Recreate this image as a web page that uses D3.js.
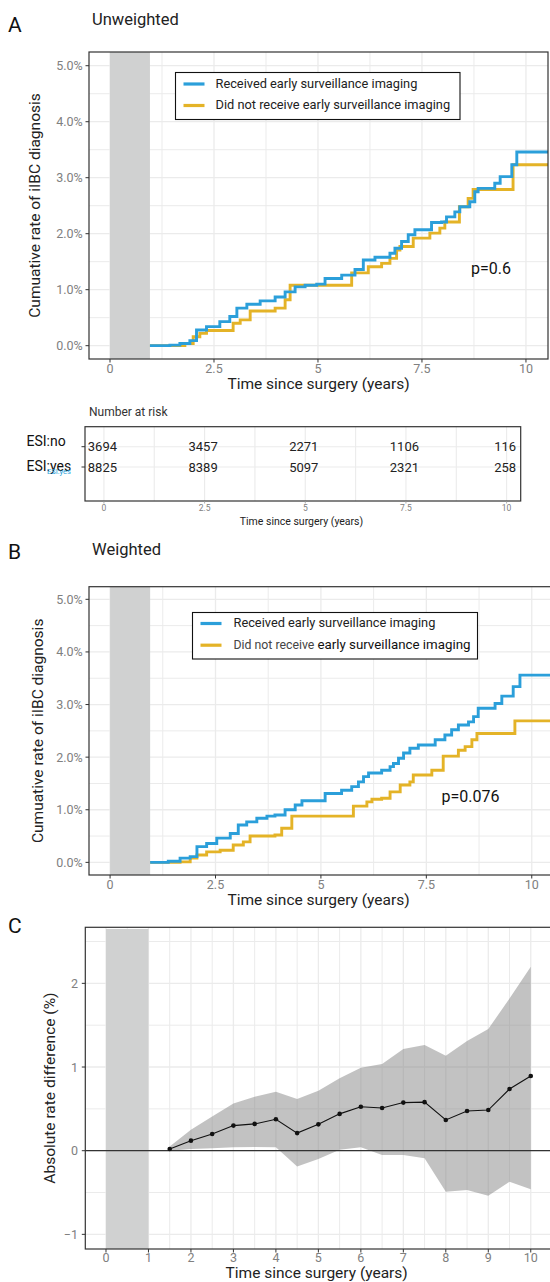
<!DOCTYPE html>
<html>
<head>
<meta charset="utf-8">
<script src="https://cdn.jsdelivr.net/npm/d3@7"></script>
<style>
  body { margin: 0; background: #fff; }
  svg { display: block; font-family: Roboto, "DejaVu Sans", sans-serif; }
</style>
</head>
<body>
<svg id="fig" width="550" height="1282"></svg>
<script>
// ---- Data ---------------------------------------------------------------
// Cumulative iIBC incidence (%), step points [years, percent]
const unweightedESI = [[0.96,0],[1.44,0.01],[1.68,0.04],[1.92,0.09],[2.08,0.28],[2.32,0.34],[2.64,0.43],[2.88,0.52],[3.05,0.67],[3.29,0.74],[3.61,0.80],[3.97,0.87],[4.21,0.96],[4.45,1.05],[4.69,1.08],[4.97,1.10],[5.17,1.20],[5.57,1.26],[5.89,1.36],[6.09,1.53],[6.37,1.58],[6.73,1.65],[6.85,1.74],[7.01,1.86],[7.17,1.98],[7.33,2.07],[7.73,2.20],[7.97,2.21],[8.09,2.30],[8.29,2.39],[8.41,2.48],[8.65,2.57],[8.77,2.75],[8.85,2.81],[9.25,2.90],[9.38,3.02],[9.66,3.23],[9.78,3.46],[10.6,3.46]];
const unweightedNoESI = [[0.96,0],[1.80,0.04],[2.00,0.16],[2.16,0.22],[2.32,0.27],[2.96,0.40],[3.13,0.46],[3.37,0.62],[3.97,0.67],[4.21,0.82],[4.33,1.08],[5.81,1.30],[6.21,1.41],[6.53,1.47],[6.73,1.56],[6.89,1.71],[6.97,1.77],[7.29,1.92],[7.69,2.01],[7.93,2.10],[8.05,2.21],[8.40,2.48],[8.61,2.63],[8.73,2.79],[9.69,3.23],[10.6,3.23]];
const weightedESI = [[0.95,0],[1.38,0.02],[1.66,0.08],[1.90,0.11],[2.06,0.30],[2.29,0.36],[2.53,0.46],[2.85,0.55],[3.04,0.71],[3.24,0.77],[3.48,0.84],[3.72,0.88],[3.91,0.90],[4.15,1.00],[4.39,1.09],[4.55,1.17],[5.10,1.31],[5.49,1.37],[5.73,1.44],[5.89,1.53],[6.01,1.63],[6.13,1.70],[6.44,1.75],[6.64,1.82],[6.72,1.88],[6.84,1.98],[6.96,2.08],[7.11,2.17],[7.31,2.23],[7.71,2.33],[7.94,2.42],[8.10,2.52],[8.26,2.61],[8.50,2.67],[8.62,2.77],[8.73,2.93],[9.13,3.02],[9.29,3.16],[9.56,3.34],[9.72,3.56],[10.6,3.56]];
const weightedNoESI = [[0.95,0],[1.66,0.01],[1.90,0.08],[2.06,0.14],[2.29,0.20],[2.61,0.23],[2.92,0.33],[3.16,0.39],[3.32,0.50],[3.91,0.52],[4.07,0.65],[4.31,0.88],[5.77,1.07],[6.09,1.15],[6.21,1.20],[6.44,1.22],[6.64,1.34],[6.88,1.47],[7.11,1.53],[7.19,1.66],[7.63,1.75],[7.90,2.02],[8.26,2.13],[8.42,2.20],[8.58,2.33],[8.70,2.45],[9.60,2.69],[10.6,2.69]];

const legendLabels = ["Received early surveillance imaging", "Did not receive early surveillance imaging"];
const kmTicksX = [0, 2.5, 5, 7.5, 10];
const kmMinorX = [1.25, 3.75, 6.25, 8.75];
const kmTicksY = [0, 1, 2, 3, 4, 5];
const kmMinorY = [0.5, 1.5, 2.5, 3.5, 4.5];

// Number at risk (unweighted)
const riskTimes = [0, 2.5, 5, 7.5, 10];
const riskGroups = ["ESI:no", "ESI:yes"];
const riskNoESI = [3694, 3457, 2271, 1106, 116];
const riskESI = [8825, 8389, 5097, 2321, 258];

// Absolute rate difference (%) with confidence band
const diffTime = [1.5, 2, 2.5, 3, 3.5, 4, 4.5, 5, 5.5, 6, 6.5, 7, 7.5, 8, 8.5, 9, 9.5, 10];
const diffEstimate = [0.02, 0.12, 0.20, 0.30, 0.32, 0.375, 0.21, 0.315, 0.44, 0.525, 0.51, 0.575, 0.58, 0.367, 0.474, 0.486, 0.737, 0.892];
const diffLower = [0.0, 0.02, 0.03, 0.04, 0.045, 0.04, -0.19, -0.10, 0.01, 0.04, -0.05, -0.05, -0.09, -0.49, -0.47, -0.54, -0.37, -0.46];
const diffUpper = [0.05, 0.25, 0.41, 0.565, 0.645, 0.705, 0.618, 0.717, 0.865, 0.99, 1.035, 1.215, 1.263, 1.135, 1.31, 1.454, 1.82, 2.198];
const diffTicksX = d3.range(0, 11, 1);
const diffMinorX = d3.range(0.5, 10.5, 1);
const diffTicksY = [-1, 0, 1, 2];
const diffMinorY = [-0.5, 0.5, 1.5, 2.5];

// ---- Styling ------------------------------------------------------------
const BLUE = "#2b9fda", GOLD = "#e4b327";
const GRID = "#ebebeb", FRAME = "#333333", TICK_TXT = "#808080", SHADE = "#d0d1d1";
const svg = d3.select("#fig");
let clipCount = 0;

function gridLines(g, x, y, xs, ys, width) {
  g.append("g").selectAll("line").data(xs).join("line")
    .attr("x1", d => x(d)).attr("x2", d => x(d))
    .attr("y1", y.range()[0]).attr("y2", y.range()[1])
    .attr("stroke", GRID).attr("stroke-width", width);
  g.append("g").selectAll("line").data(ys).join("line")
    .attr("y1", d => y(d)).attr("y2", d => y(d))
    .attr("x1", x.range()[0]).attr("x2", x.range()[1])
    .attr("stroke", GRID).attr("stroke-width", width);
}

function frame(g, x, y) {
  g.append("rect")
    .attr("x", x.range()[0]).attr("y", y.range()[1])
    .attr("width", x.range()[1] - x.range()[0]).attr("height", y.range()[0] - y.range()[1])
    .attr("fill", "none").attr("stroke", FRAME).attr("stroke-width", 1.2);
}

function axes(g, x, y, xt, yt, yFmt, yLabelX, xLabelDy, fs) {
  g.append("g").selectAll("line").data(yt).join("line")
    .attr("x1", x.range()[0] - 3.5).attr("x2", x.range()[0])
    .attr("y1", d => y(d)).attr("y2", d => y(d))
    .attr("stroke", FRAME).attr("stroke-width", 1);
  g.append("g").selectAll("text").data(yt).join("text")
    .attr("x", yLabelX).attr("y", d => y(d)).attr("dy", "0.36em")
    .attr("text-anchor", "end").attr("fill", TICK_TXT).attr("font-size", fs)
    .text(yFmt);
  g.append("g").selectAll("line").data(xt).join("line")
    .attr("x1", d => x(d)).attr("x2", d => x(d))
    .attr("y1", y.range()[0]).attr("y2", y.range()[0] + 3.5)
    .attr("stroke", FRAME).attr("stroke-width", 1);
  g.append("g").selectAll("text").data(xt).join("text")
    .attr("x", d => x(d)).attr("y", y.range()[0] + xLabelDy)
    .attr("text-anchor", "middle").attr("fill", TICK_TXT).attr("font-size", fs)
    .text(d => d);
}

function addClip(x, y) {
  const id = "clip" + (clipCount++);
  svg.append("clipPath").attr("id", id).append("rect")
    .attr("x", x.range()[0]).attr("y", y.range()[1])
    .attr("width", x.range()[1] - x.range()[0]).attr("height", y.range()[0] - y.range()[1]);
  return "url(#" + id + ")";
}

function titles(tag, tagY, title, titleY) {
  svg.append("text").attr("x", 8).attr("y", tagY).attr("font-size", 21).attr("fill", "#111").text(tag);
  svg.append("text").attr("x", 92).attr("y", titleY).attr("font-size", 16.5).attr("fill", "#222").text(title);
}

function axisTitles(x, y, xTitle, xTitleY, yTitle, yTitleX, size) {
  const cx = (x.range()[0] + Math.min(x.range()[1], 548)) / 2;
  svg.append("text").attr("x", cx).attr("y", xTitleY).attr("text-anchor", "middle")
    .attr("font-size", size).attr("fill", "#222").text(xTitle);
  const cy = (y.range()[0] + y.range()[1]) / 2;
  svg.append("text").attr("transform", `translate(${yTitleX},${cy}) rotate(-90)`)
    .attr("text-anchor", "middle").attr("dy", "0.35em")
    .attr("font-size", size).attr("fill", "#222").text(yTitle);
}

// ---- Kaplan–Meier style cumulative incidence panel -----------------------
function kmPanel(o) {
  const x = d3.scaleLinear().domain(o.xDomain).range([o.left, o.right]);
  const y = d3.scaleLinear().domain(o.yDomain).range([o.bottom, o.top]);
  const g = svg.append("g");
  const clip = addClip(x, y);
  gridLines(g, x, y, kmMinorX, kmMinorY, 1);
  gridLines(g, x, y, kmTicksX, kmTicksY, 1.3);
  // landmark window excluded from analysis
  g.append("rect").attr("clip-path", clip)
    .attr("x", x(0)).attr("width", x(o.landmark) - x(0))
    .attr("y", y.range()[1]).attr("height", y.range()[0] - y.range()[1])
    .attr("fill", SHADE);
  const line = d3.line().x(d => x(d[0])).y(d => y(d[1])).curve(d3.curveStepAfter);
  const curves = g.append("g").attr("clip-path", clip);
  [[o.noESI, GOLD], [o.esi, BLUE]].forEach(([data, col]) => {
    curves.append("path").datum(data).attr("d", line)
      .attr("fill", "none").attr("stroke", col).attr("stroke-width", 2.9);
  });
  frame(g, x, y);
  axes(g, x, y, kmTicksX, kmTicksY, d => d.toFixed(1) + "%", o.left - 6.3, 14, 12.5);

  // legend
  const L = o.legend;
  const lg = svg.append("g").attr("transform", `translate(${L.x},${L.y})`);
  lg.append("rect").attr("width", L.w).attr("height", L.h)
    .attr("fill", "#fff").attr("stroke", "#111").attr("stroke-width", 1.1);
  [BLUE, GOLD].forEach((c, i) => {
    const yy = L.row0 + i * L.gap;
    lg.append("line").attr("x1", L.key0).attr("x2", L.key0 + 21)
      .attr("y1", yy).attr("y2", yy).attr("stroke", c).attr("stroke-width", 3.2);
  });
  lg.append("text").attr("x", L.text0).attr("y", L.row0).attr("dy", "0.3em")
    .attr("font-size", 12.8).attr("fill", "#222").text(legendLabels[0]);
  const t2 = lg.append("text").attr("x", L.text0).attr("y", L.row0 + L.gap).attr("dy", "0.3em")
    .attr("font-size", 12.8).attr("fill", "#222");
  if (L.split) {
    t2.append("tspan").attr("fill", "#444").attr("font-size", 12.3).text("Did not receive ");
    t2.append("tspan").attr("fill", "#111").attr("font-size", 13.3).text("early surveillance imaging");
  } else {
    t2.text(legendLabels[1]);
  }

  svg.append("text").attr("x", o.pPos[0]).attr("y", o.pPos[1])
    .attr("font-size", 16).attr("fill", "#111").text(o.pText);
  return { x, y };
}

// ---- Panel A --------------------------------------------------------------
titles("A", 31.5, "Unweighted", 25);
const A = kmPanel({
  left: 89, right: 548, top: 52, bottom: 359,
  xDomain: [-0.505, 10.53], yDomain: [-0.238, 5.245], landmark: 0.96,
  esi: unweightedESI, noESI: unweightedNoESI,
  legend: { x: 175.5, y: 72.5, w: 284.5, h: 47, key0: 8, text0: 40, row0: 11.5, gap: 21.5, split: false },
  pText: "p=0.6", pPos: [471, 274]
});
axisTitles(A.x, A.y, "Time since surgery (years)", 389, "Cumuative rate of iIBC diagnosis", 35, 15.5);

// ---- Number at risk table --------------------------------------------------
(function riskTable() {
  const x = d3.scaleLinear().domain([-0.47, 10.35]).range([85, 520.7]);
  const y = d3.scalePoint().domain(riskGroups).range([446.7, 467]);
  const g = svg.append("g");
  svg.append("text").attr("x", 89).attr("y", 416).attr("font-size", 12).attr("fill", "#333").text("Number at risk");
  g.append("g").selectAll("line").data(kmTicksX.concat(kmMinorX)).join("line")
    .attr("x1", d => x(d)).attr("x2", d => x(d)).attr("y1", 426.7).attr("y2", 501)
    .attr("stroke", GRID).attr("stroke-width", 1.1);
  g.append("g").selectAll("line").data(riskGroups).join("line")
    .attr("x1", 85).attr("x2", 520.7).attr("y1", d => y(d)).attr("y2", d => y(d))
    .attr("stroke", GRID).attr("stroke-width", 1.1);
  g.append("rect").attr("x", 85).attr("y", 426.7).attr("width", 435.7).attr("height", 74.3)
    .attr("fill", "none").attr("stroke", FRAME).attr("stroke-width", 1.2);
  [riskNoESI, riskESI].forEach((vals, gi) => {
    g.append("g").selectAll("text").data(vals).join("text")
      .attr("x", (d, i) => x(riskTimes[i]) - 1.5).attr("y", y(riskGroups[gi])).attr("dy", "0.36em")
      .attr("text-anchor", "middle").attr("font-size", 13).attr("fill", "#222").text(d => d);
  });
  g.append("g").selectAll("line").data(riskGroups).join("line")
    .attr("x1", 81.5).attr("x2", 85).attr("y1", d => y(d)).attr("y2", d => y(d))
    .attr("stroke", FRAME).attr("stroke-width", 1);
  svg.append("text").attr("x", 26.5).attr("y", 445.7).attr("font-size", 14).attr("fill", "#111").text(riskGroups[0]);
  svg.append("text").attr("x", 26.5).attr("y", 470.5).attr("font-size", 14).attr("fill", "#111").text(riskGroups[1]);
  // faint duplicate group label printed beneath the row label
  svg.append("text").attr("x", 47).attr("y", 474).attr("font-size", 7.5).attr("fill", BLUE).text(riskGroups[1]);
  g.append("g").selectAll("line").data(kmTicksX).join("line")
    .attr("x1", d => x(d)).attr("x2", d => x(d)).attr("y1", 501).attr("y2", 503.5)
    .attr("stroke", "#999").attr("stroke-width", 0.8);
  g.append("g").selectAll("text").data(kmTicksX).join("text")
    .attr("x", d => x(d)).attr("y", 511).attr("text-anchor", "middle")
    .attr("font-size", 8.5).attr("fill", TICK_TXT).text(d => d);
  svg.append("text").attr("x", 301.5).attr("y", 525).attr("text-anchor", "middle")
    .attr("font-size", 10.5).attr("fill", "#222").text("Time since surgery (years)");
})();

// ---- Panel B --------------------------------------------------------------
titles("B", 558.5, "Weighted", 555);
const B = kmPanel({
  left: 89, right: 552, top: 586.7, bottom: 875,
  xDomain: [-0.5, 10.48], yDomain: [-0.24, 5.24], landmark: 0.95,
  esi: weightedESI, noESI: weightedNoESI,
  legend: { x: 192.5, y: 612.5, w: 285, h: 46.5, key0: 8, text0: 41, row0: 11, gap: 21.7, split: true },
  pText: "p=0.076", pPos: [441.5, 802]
});
axisTitles(B.x, B.y, "Time since surgery (years)", 905, "Cumuative rate of iIBC diagnosis", 38, 15.5);

// ---- Panel C: absolute rate difference -------------------------------------
(function diffPanel() {
  svg.append("text").attr("x", 8).attr("y", 933).attr("font-size", 21).attr("fill", "#111").text("C");
  const x = d3.scaleLinear().domain([-0.487, 10.5]).range([85.3, 552]);
  const y = d3.scaleLinear().domain([-1.175, 2.67]).range([1249, 927.3]);
  const g = svg.append("g");
  const clip = addClip(x, y);
  gridLines(g, x, y, diffMinorX, diffMinorY, 1);
  gridLines(g, x, y, diffTicksX, diffTicksY, 1.3);
  g.append("rect").attr("x", x(0)).attr("width", x(1) - x(0))
    .attr("y", y(2.65)).attr("height", y.range()[0] - y(2.65)).attr("fill", SHADE);
  const pts = diffTime.map((t, i) => ({ t, est: diffEstimate[i], lo: diffLower[i], hi: diffUpper[i] }));
  g.append("path").datum(pts).attr("clip-path", clip)
    .attr("d", d3.area().x(d => x(d.t)).y0(d => y(d.lo)).y1(d => y(d.hi)))
    .attr("fill", "#7f807f").attr("fill-opacity", 0.48);
  g.append("line").attr("x1", x.range()[0]).attr("x2", x.range()[1])
    .attr("y1", y(0)).attr("y2", y(0)).attr("stroke", FRAME).attr("stroke-width", 1.3);
  g.append("path").datum(pts)
    .attr("d", d3.line().x(d => x(d.t)).y(d => y(d.est)))
    .attr("fill", "none").attr("stroke", "#111").attr("stroke-width", 1.1);
  g.append("g").selectAll("circle").data(pts).join("circle")
    .attr("cx", d => x(d.t)).attr("cy", d => y(d.est)).attr("r", 2.3).attr("fill", "#111");
  frame(g, x, y);
  axes(g, x, y, diffTicksX, diffTicksY, d => d < 0 ? "\u2212" + Math.abs(d) : d, 78, 13, 12.5);
  axisTitles(x, y, "Time since surgery (years)", 1278, "Absolute rate difference (%)", 50, 15.5);
})();
</script>
</body>
</html>
